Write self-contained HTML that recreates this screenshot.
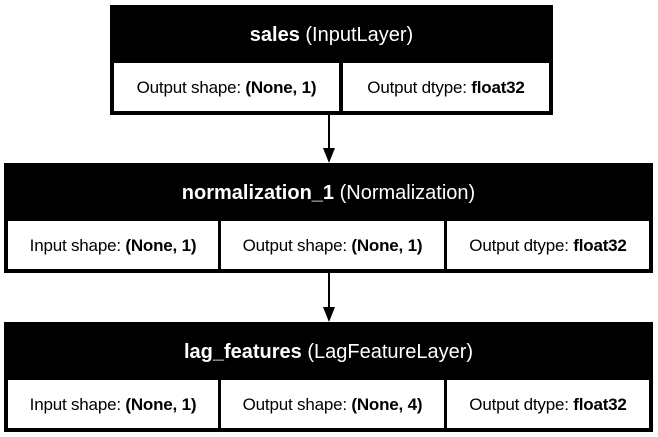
<!DOCTYPE html>
<html><head><style>
body{margin:0;width:658px;height:437px;background:#fff;position:relative;font-family:"Liberation Sans",Arial,sans-serif;overflow:hidden}
.box{position:absolute;background:#000;}
.h{position:absolute;left:0;right:0;top:0;height:55px;color:#fff;font-size:20px;text-align:center;line-height:60px}
.c{position:absolute;background:#fff;font-size:17px;text-align:center;line-height:50px;color:#000;white-space:nowrap;letter-spacing:-0.2px}
b{font-weight:bold}
</style></head><body>
<div class="box" style="left:110px;top:5px;width:443px;height:110px">
<div class="h"><b>sales</b> (InputLayer)</div>
<div class="c" style="left:4px;top:58px;width:225px;height:48px">Output shape: <b>(None, 1)</b></div>
<div class="c" style="left:233px;top:58px;width:206px;height:48px">Output dtype: <b>float32</b></div>
</div>
<div class="box" style="left:4px;top:163px;width:649px;height:110px">
<div class="h"><b>normalization_1</b> (Normalization)</div>
<div class="c" style="left:4px;top:58px;width:210px;height:48px">Input shape: <b>(None, 1)</b></div>
<div class="c" style="left:217px;top:58px;width:223px;height:48px">Output shape: <b>(None, 1)</b></div>
<div class="c" style="left:443px;top:58px;width:202px;height:48px">Output dtype: <b>float32</b></div>
</div>
<div class="box" style="left:4px;top:322px;width:649px;height:110px">
<div class="h"><b>lag_features</b> (LagFeatureLayer)</div>
<div class="c" style="left:4px;top:58px;width:210px;height:48px">Input shape: <b>(None, 1)</b></div>
<div class="c" style="left:217px;top:58px;width:223px;height:48px">Output shape: <b>(None, 4)</b></div>
<div class="c" style="left:443px;top:58px;width:202px;height:48px">Output dtype: <b>float32</b></div>
</div>
<svg width="658" height="437" style="position:absolute;left:0;top:0">
<line x1="329" y1="115" x2="329" y2="150" stroke="#000" stroke-width="2"/>
<polygon points="323,148 335,148 329,163" fill="#000"/>
<line x1="329" y1="273" x2="329" y2="309" stroke="#000" stroke-width="2"/>
<polygon points="323,307 335,307 329,322" fill="#000"/>
</svg>
</body></html>
